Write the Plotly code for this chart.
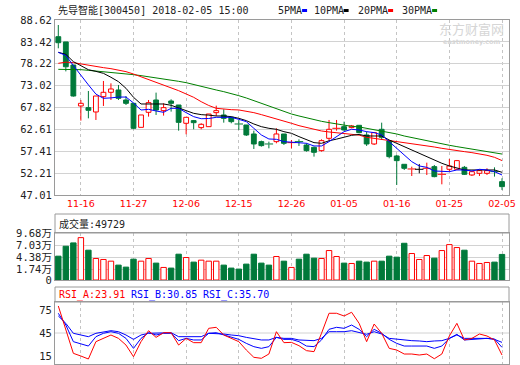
import plotly.graph_objects as go

# ---------------- data ----------------
trade_dates = ["11-13", "11-14", "11-15", "11-16", "11-17", "11-20", "11-21", "11-22", "11-23", "11-24",
               "11-27", "11-28", "11-29", "11-30", "12-01", "12-04", "12-05", "12-06", "12-07", "12-08",
               "12-11", "12-12", "12-13", "12-14", "12-15", "12-18", "12-19", "12-20", "12-21", "12-22",
               "12-25", "12-26", "12-27", "12-28", "12-29", "01-02", "01-03", "01-04", "01-05", "01-08",
               "01-09", "01-10", "01-11", "01-12", "01-15", "01-16", "01-17", "01-18", "01-19", "01-22",
               "01-23", "01-24", "01-25", "01-26", "01-29", "01-30", "01-31", "02-01", "02-02", "02-05"]
label_dates = ["11-16", "11-27", "12-06", "12-15", "12-26", "01-05", "01-16", "01-25", "02-05"]

open_ = [84.65, 83.40, 77.92, 68.18, 67.78, 66.75, 70.39, 71.43, 71.98, 69.60,
         68.81, 63.10, 66.67, 69.60, 67.07, 69.36, 68.41, 64.06, 64.69, 63.03,
         63.26, 66.59, 66.04, 65.48, 63.97, 63.66, 61.52, 59.70, 59.22, 59.70,
         61.52, 59.38, 59.78, 58.90, 58.35, 57.56, 60.49, 62.79, 63.26, 63.03,
         63.58, 61.28, 59.14, 62.63, 59.85, 56.29, 54.31, 53.12, 53.12, 53.28,
         53.75, 51.85, 53.12, 53.12, 53.59, 51.77, 52.17, 52.17, 52.64, 50.19]
high = [87.43, 83.40, 77.92, 69.60, 71.74, 70.55, 74.12, 73.56, 73.17, 70.55,
        68.81, 66.04, 69.60, 71.35, 68.81, 69.76, 68.41, 65.48, 64.85, 64.06,
        66.27, 68.25, 67.38, 65.64, 64.85, 63.66, 62.31, 59.94, 59.70, 62.87,
        61.52, 60.09, 60.25, 59.30, 58.51, 60.25, 64.85, 64.85, 64.45, 63.66,
        63.58, 62.07, 61.84, 64.21, 60.09, 56.53, 54.31, 53.75, 54.39, 54.70,
        54.15, 53.91, 55.58, 55.34, 53.91, 52.72, 52.96, 53.36, 53.59, 50.98]
low = [81.89, 76.40, 70.40, 64.69, 65.24, 64.85, 68.18, 69.60, 69.60, 68.41,
       62.63, 63.10, 65.64, 66.04, 65.88, 66.83, 62.31, 61.44, 62.63, 62.63,
       63.26, 65.80, 64.21, 64.06, 62.47, 61.04, 57.95, 58.51, 58.11, 59.30,
       58.90, 58.11, 58.67, 57.32, 56.13, 57.32, 59.94, 62.31, 62.31, 62.87,
       61.68, 58.67, 58.90, 60.09, 55.73, 49.40, 52.96, 51.53, 52.17, 51.77,
       51.22, 49.55, 52.56, 52.96, 51.77, 51.53, 51.53, 51.77, 51.38, 48.21]
close = [83.22, 77.50, 70.55, 68.81, 67.15, 70.55, 71.43, 72.22, 70.00, 68.81,
         62.87, 66.04, 68.97, 67.22, 67.78, 68.81, 64.29, 65.48, 64.21, 63.82,
         66.27, 67.07, 65.24, 64.45, 63.82, 61.28, 59.14, 58.75, 59.06, 61.52,
         59.30, 59.54, 59.62, 57.56, 57.16, 59.94, 62.63, 62.95, 62.47, 63.42,
         61.84, 59.14, 61.84, 60.73, 56.13, 55.18, 53.36, 53.28, 53.12, 53.44,
         51.38, 52.01, 53.91, 55.18, 51.93, 52.56, 52.80, 52.80, 52.49, 49.00]

ma5 = [80.93, 80.20, 77.80, 75.40, 73.20, 71.00, 70.00, 70.10, 70.30, 70.30,
       68.90, 67.22, 67.38, 66.99, 66.67, 67.62, 67.62, 66.59, 65.64, 65.15,
       65.20, 65.48, 65.48, 65.48, 65.00, 64.45, 62.87, 61.28, 60.33, 60.25,
       59.70, 59.54, 59.54, 59.30, 58.67, 58.67, 59.70, 60.89, 62.07, 62.63,
       62.47, 62.07, 61.84, 61.28, 59.70, 58.11, 56.53, 54.94, 53.91, 53.59,
       52.72, 52.56, 52.56, 52.96, 52.96, 52.72, 53.12, 52.96, 52.56, 51.77]
ma10 = [80.93, 80.46, 78.72, 77.80, 76.80, 76.40, 75.94, 75.00, 73.96, 72.38,
        70.24, 68.65, 68.65, 68.65, 68.65, 68.34, 67.78, 67.07, 66.43, 66.12,
        66.00, 65.80, 65.80, 65.64, 65.24, 64.69, 63.90, 63.26, 62.87, 62.63,
        62.07, 61.68, 60.89, 60.09, 59.46, 59.30, 59.90, 60.30, 60.80, 61.20,
        61.40, 61.04, 61.04, 61.04, 60.09, 59.30, 58.51, 57.71, 56.76, 55.97,
        55.18, 54.55, 53.91, 53.36, 52.96, 52.96, 52.96, 52.96, 52.96, 52.41]
ma20 = [78.32, 78.60, 78.48, 78.16, 77.76, 77.53, 77.29, 77.05, 76.73, 76.34,
        75.78, 75.15, 74.52, 73.88, 73.25, 72.61, 71.82, 71.03, 70.24, 69.20,
        68.30, 67.62, 67.38, 67.30, 67.23, 66.99, 66.59, 66.12, 65.64, 65.16,
        64.61, 64.06, 63.50, 63.03, 62.55, 62.23, 62.00, 61.84, 61.68, 61.52,
        61.25, 60.73, 60.49, 60.25, 59.93, 59.70, 59.46, 59.30, 58.98, 58.67,
        58.43, 58.11, 57.79, 57.56, 57.32, 57.08, 56.84, 56.45, 55.97, 55.20]
ma30 = [76.89, 76.89, 76.89, 76.81, 76.65, 76.50, 76.34, 76.18, 76.02, 75.86,
        75.62, 75.39, 75.15, 74.91, 74.67, 74.36, 74.04, 73.72, 73.33, 72.93,
        72.40, 71.98, 71.58, 71.19, 70.63, 70.08, 69.44, 68.81, 68.18, 67.54,
        66.91, 66.27, 65.80, 65.32, 64.85, 64.53, 64.21, 63.90, 63.58, 63.34,
        63.20, 62.87, 62.63, 62.31, 61.99, 61.52, 61.04, 60.65, 60.25, 59.85,
        59.46, 59.14, 58.83, 58.51, 58.19, 57.87, 57.64, 57.40, 57.08, 56.75]

# volume in 万 (10k lots)
volume = [4.59, 6.77, 7.50, 8.66, 5.90, 4.08, 3.86, 3.49, 2.62, 2.18,
          3.93, 3.49, 4.08, 3.06, 2.11, 1.97, 5.02, 4.29, 3.28, 3.71,
          3.49, 3.49, 2.62, 1.97, 1.75, 2.84, 5.02, 3.06, 2.62, 4.51,
          3.49, 2.11, 3.93, 5.02, 4.15, 4.08, 5.82, 4.51, 3.06, 2.98,
          3.49, 3.28, 3.49, 3.49, 4.59, 4.37, 7.42, 5.17, 3.86, 4.73,
          4.15, 5.82, 7.13, 6.48, 5.90, 3.49, 2.98, 3.20, 3.28, 4.97]

rsi_a = [80.2, 48.9, 18.5, 15.0, 11.1, 33.7, 38.0, 42.4, 38.0, 29.3,
         14.1, 33.7, 48.0, 39.3, 45.4, 45.4, 29.3, 38.0, 32.4, 32.4,
         51.1, 52.4, 42.4, 38.0, 33.7, 22.8, 13.3, 12.0, 17.6, 46.7,
         32.4, 32.8, 28.5, 22.0, 20.7, 44.6, 70.7, 70.7, 67.2, 72.0,
         57.6, 33.7, 56.7, 44.6, 25.0, 22.8, 17.6, 17.6, 16.3, 17.6,
         11.5, 17.6, 41.1, 57.6, 35.9, 38.0, 43.7, 41.1, 35.9, 16.3]
rsi_b = [70.7, 55.4, 33.7, 30.7, 28.0, 40.2, 44.6, 46.7, 44.6, 38.0,
         25.0, 38.0, 45.4, 42.4, 44.6, 44.6, 35.0, 38.0, 35.9, 35.9,
         44.6, 45.4, 42.4, 39.3, 36.7, 31.5, 27.2, 25.0, 27.2, 39.3,
         36.7, 36.7, 33.7, 28.0, 27.2, 35.9, 49.8, 52.4, 51.1, 55.4,
         49.8, 40.2, 49.8, 44.6, 36.7, 31.5, 28.0, 28.0, 28.0, 28.0,
         25.0, 28.0, 38.0, 43.3, 35.9, 36.7, 38.0, 38.0, 37.2, 26.3]
rsi_c = [67.2, 57.6, 44.6, 42.4, 40.2, 44.6, 46.7, 48.0, 46.7, 42.4,
         36.7, 42.4, 44.6, 44.6, 44.6, 45.4, 40.2, 40.2, 40.2, 40.2,
         44.6, 44.6, 43.7, 42.4, 41.5, 39.3, 37.2, 35.9, 35.9, 39.3,
         38.0, 38.0, 35.9, 35.0, 35.0, 38.0, 46.7, 46.7, 46.7, 48.0,
         45.4, 43.3, 46.7, 43.7, 38.0, 36.7, 35.9, 35.0, 34.6, 33.7,
         34.6, 35.0, 38.0, 42.4, 38.0, 38.0, 38.0, 38.0, 36.7, 32.8]

price_ticks = [88.62, 83.42, 78.22, 73.02, 67.82, 62.61, 57.41, 52.21, 47.01]
vol_ticks = [9.68, 7.03, 4.38, 1.74]
rsi_ticks = [75, 45, 15]

stock_title = "先导智能[300450] 2018-02-05 15:00"
last_volume = "49729"
rsi_last = {"RSI_A": "23.91", "RSI_B": "30.85", "RSI_C": "35.70"}

# ---------------- style ----------------
W, H = 520, 365
RED = "#ff0000"
GREEN = "#00793a"
BLUE = "#0000ff"
BLACK = "#000000"
MA_GREEN = "#008000"
GRID = "#d2d2d2"
FRAME = "#9a9a9a"
TXT = "#222222"
MONO = "DejaVu Sans Mono, Noto Sans CJK SC"
VOL_FLOOR = -0.65


def px(x):
    return x / W


def py(y):
    return 1 - y / H


n = len(trade_dates)
idx = list(range(n))
tick_idx = [trade_dates.index(d) for d in label_dates]

fig = go.Figure()

# ---- candles ----
groups = {"up": [], "down": [], "flat": []}
for i in idx:
    o, c = open_[i], close[i]
    if c > o:
        groups["up"].append(i)
    elif c < o:
        groups["down"].append(i)
    else:
        groups["flat"].append(i)
col_of = {"up": RED, "down": GREEN, "flat": BLACK}

DOJI = 0.2
for key, members in groups.items():
    col = col_of[key]
    wx, wy = [], []
    bx, bbase, bh, dx, dy = [], [], [], [], []
    for i in members:
        top = max(open_[i], close[i])
        bot = min(open_[i], close[i])
        wx += [i, i, None, i, i, None]
        wy += [high[i], top, None, bot, low[i], None]
        if top - bot < DOJI:
            dx.append(i)
            dy.append((top + bot) / 2)
        else:
            bx.append(i)
            bbase.append(bot)
            bh.append(top - bot)
    fig.add_trace(go.Scatter(x=wx, y=wy, mode="lines", line=dict(color=col, width=1),
                             hoverinfo="skip", showlegend=False, xaxis="x", yaxis="y"))
    if bx:
        fig.add_trace(go.Bar(x=bx, y=bh, base=bbase, width=0.64,
                             marker=dict(color="#ffffff" if key == "up" else col,
                                         line=dict(color=col, width=1)),
                             showlegend=False, xaxis="x", yaxis="y"))
    if dx:
        fig.add_trace(go.Scatter(x=dx, y=dy, mode="markers",
                                 marker=dict(symbol="line-ew", size=6,
                                             line=dict(color=col, width=1)),
                                 showlegend=False, xaxis="x", yaxis="y"))

# ---- moving averages ----
for vals, col in [(ma30, MA_GREEN), (ma20, RED), (ma10, BLACK), (ma5, BLUE)]:
    fig.add_trace(go.Scatter(x=idx, y=vals, mode="lines", line=dict(color=col, width=1),
                             showlegend=False, xaxis="x", yaxis="y"))

# ---- volume ----
for up in (True, False):
    sel = [i for i in idx if (close[i] >= open_[i]) == up]
    col = RED if up else GREEN
    fig.add_trace(go.Bar(x=sel, y=[volume[i] - VOL_FLOOR for i in sel], base=VOL_FLOOR,
                         width=0.72,
                         marker=dict(color="#ffffff" if up else col, line=dict(color=col, width=1)),
                         showlegend=False, xaxis="x2", yaxis="y2"))

# ---- RSI ----
for vals, col in [(rsi_c, BLUE), (rsi_b, BLUE), (rsi_a, RED)]:
    fig.add_trace(go.Scatter(x=idx, y=vals, mode="lines", line=dict(color=col, width=1),
                             showlegend=False, xaxis="x3", yaxis="y3"))

# ---------------- layout ----------------
xdom = [px(55), px(509)]
xr = [-0.44, n - 0.07]
common_x = dict(domain=xdom, range=xr, tickmode="array", tickvals=tick_idx,
                showgrid=True, gridcolor="#c4c4c4", griddash="3px,3px", gridwidth=1,
                showline=True, mirror=True, linecolor=FRAME, linewidth=1,
                zeroline=False, ticks="", automargin=False, fixedrange=True)

fig.update_layout(
    width=W, height=H, template="none",
    margin=dict(l=0, r=0, t=0, b=0),
    paper_bgcolor="white", plot_bgcolor="white",
    barmode="overlay", bargap=0,
    font=dict(family=MONO, size=10, color=TXT),
    showlegend=False,
    xaxis=dict(common_x, anchor="y", ticktext=label_dates, showticklabels=True,
               ticklabeloverflow="allow",
               tickfont=dict(family="DejaVu Sans", size=9.5, color=RED)),
    yaxis=dict(domain=[py(195), py(20)], range=[price_ticks[-1], price_ticks[0]],
               tickmode="array", tickvals=price_ticks, ticktext=[f"{v:.2f}" for v in price_ticks],
               showgrid=True, gridcolor=GRID, gridwidth=1, showline=True, mirror=True,
               linecolor=FRAME, zeroline=False, ticks="", automargin=False, anchor="x",
               ticklabeloverflow="allow", tickfont=dict(size=10.5, color=TXT)),
    xaxis2=dict(common_x, anchor="y2", showticklabels=False),
    yaxis2=dict(domain=[py(280), py(233)], range=[VOL_FLOOR, vol_ticks[0]],
                tickmode="array", tickvals=vol_ticks + [VOL_FLOOR],
                ticktext=[f"{v:.2f}万" for v in vol_ticks] + ["0"],
                showgrid=True, gridcolor=GRID, showline=True, mirror=True, linecolor=FRAME,
                zeroline=False, ticks="", automargin=False, anchor="x2",
                ticklabeloverflow="allow", tickfont=dict(size=10.5, color=TXT)),
    xaxis3=dict(common_x, anchor="y3", showticklabels=False),
    yaxis3=dict(domain=[py(364), py(302)], range=[4.6, 85.4],
                tickmode="array", tickvals=rsi_ticks, ticktext=[str(v) for v in rsi_ticks],
                showgrid=False, showline=True, mirror=True, linecolor=FRAME,
                zeroline=False, ticks="", automargin=False, anchor="x3",
                ticklabeloverflow="allow", tickfont=dict(size=10.5, color=TXT)),
)

shapes = [
    # volume title box
    dict(type="rect", xref="paper", yref="paper", x0=px(55), x1=px(509), y0=py(233), y1=py(214),
         line=dict(color=FRAME, width=1), fillcolor="rgba(0,0,0,0)", layer="above"),
    # RSI title box
    dict(type="rect", xref="paper", yref="paper", x0=px(55), x1=px(509), y0=py(302), y1=py(287),
         line=dict(color=FRAME, width=1), fillcolor="rgba(0,0,0,0)", layer="above"),
    # RSI 45 guide line
    dict(type="line", xref="x3 domain", yref="y3", x0=0, x1=1, y0=45, y1=45,
         line=dict(color=GRID, width=1), layer="below"),
]

annotations = [
    dict(text=stock_title, x=px(56), y=py(10), xref="paper", yref="paper",
         xanchor="left", yanchor="middle", showarrow=False, font=dict(size=10, color=TXT)),
    dict(text="成交量:" + last_volume, x=px(57), y=py(223.5), xref="paper", yref="paper",
         xanchor="left", yanchor="middle", showarrow=False, font=dict(size=10, color=TXT)),
    dict(text="东方财富网", x=px(471), y=py(28), xref="paper", yref="paper",
         xanchor="center", yanchor="middle", showarrow=False,
         font=dict(family="Noto Sans CJK SC", size=13, color="#d6d6d6")),
    dict(text="<b>eastmoney.com</b>", x=px(471), y=py(42), xref="paper", yref="paper",
         xanchor="center", yanchor="middle", showarrow=False,
         font=dict(family="DejaVu Sans", size=6.5, color="#d6d6d6")),
]

# legend (MA names with colour swatches)
legend_items = [("5PMA", BLUE, 276), ("10PMA", BLACK, 311.5), ("20PMA", RED, 356), ("30PMA", MA_GREEN, 400)]
for name, col, x0 in legend_items:
    annotations.append(dict(text=name, x=px(x0), y=py(10), xref="paper", yref="paper",
                            xanchor="left", yanchor="middle", showarrow=False,
                            font=dict(size=10, color=TXT)))
    sw = x0 + len(name) * 6.02 + 2
    shapes.append(dict(type="rect", xref="paper", yref="paper", x0=px(sw), x1=px(sw + 5),
                       y0=py(12), y1=py(9), line=dict(width=0), fillcolor=col))

rsi_items = [("RSI_A", RED, 57), ("RSI_B", BLUE, 128.5), ("RSI_C", BLUE, 200.5)]
for name, col, x0 in rsi_items:
    annotations.append(dict(text=f"{name}:{rsi_last[name]}", x=px(x0), y=py(294.5),
                            xref="paper", yref="paper", xanchor="left", yanchor="middle",
                            showarrow=False, font=dict(size=10, color=col)))

fig.update_layout(shapes=shapes, annotations=annotations)

# remove the default 8px page margin so the 520x365 figure fills the window exactly
fig.write_html("out.html", config={"displayModeBar": False, "staticPlot": True},
               post_script="document.body.style.margin='0px';")
